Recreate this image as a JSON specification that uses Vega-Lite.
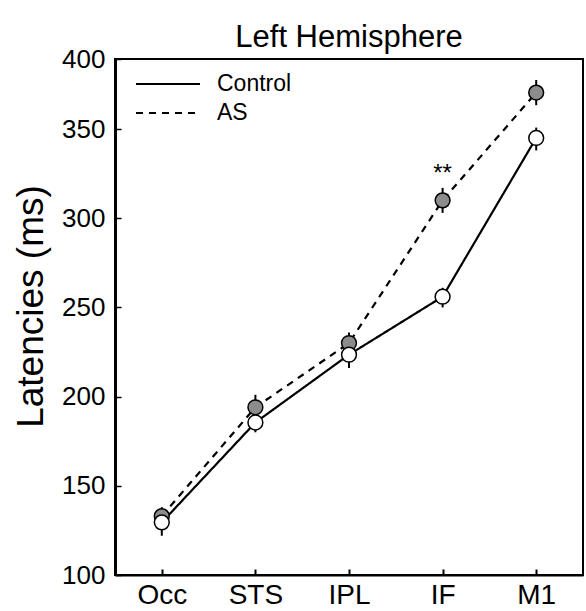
{
  "$schema": "https://vega.github.io/schema/vega-lite/v6.json",
  "width": 468,
  "height": 516,
  "autosize": {"type": "none"},
  "padding": {"left": 115, "top": 59, "right": 3, "bottom": 36},
  "background": "white",
  "config": {
    "view": {"stroke": "black", "strokeWidth": 2},
    "font": "Liberation Sans",
    "axis": {"labelColor": "black", "titleColor": "black", "domainColor": "black", "tickColor": "black", "grid": false, "labelFont": "Liberation Sans", "titleFont": "Liberation Sans", "titleFontWeight": "normal"}
  },
  "title": {"text": "Left Hemisphere", "fontSize": 31, "fontWeight": "normal", "font": "Liberation Sans", "color": "black", "anchor": "middle", "offset": -8},
  "data": {
    "values": [
      {"region": "Occ", "group": "AS", "lat": 133, "lo": 127, "hi": 138},
      {"region": "STS", "group": "AS", "lat": 194, "lo": 187, "hi": 201},
      {"region": "IPL", "group": "AS", "lat": 230, "lo": 224, "hi": 236},
      {"region": "IF", "group": "AS", "lat": 310, "lo": 303, "hi": 317},
      {"region": "M1", "group": "AS", "lat": 376, "lo": 367, "hi": 385},
      {"region": "Occ", "group": "Control", "lat": 129.5, "lo": 122, "hi": 136},
      {"region": "STS", "group": "Control", "lat": 185.5, "lo": 180, "hi": 191},
      {"region": "IPL", "group": "Control", "lat": 223.5, "lo": 216, "hi": 230},
      {"region": "IF", "group": "Control", "lat": 256, "lo": 250, "hi": 261},
      {"region": "M1", "group": "Control", "lat": 345, "lo": 338, "hi": 351}
    ]
  },
  "encoding": {
    "x": {
      "field": "region", "type": "ordinal",
      "scale": {"type": "point", "domain": ["Occ", "STS", "IPL", "IF", "M1"], "padding": 0.5},
      "axis": {"title": null, "labelAngle": 0, "labelFontSize": 28, "tickSize": -6, "tickWidth": 2, "labelPadding": 12, "domainWidth": 2}
    }
  },
  "layer": [
    {
      "mark": {"type": "line", "color": "black", "strokeWidth": 2.2},
      "encoding": {
        "y": {
          "field": "lat", "type": "quantitative",
          "scale": {"domain": [100, 350, 400], "range": [516, 70, 0], "zero": false, "nice": false},
          "axis": {"title": "Latencies (ms)", "values": [100, 150, 200, 250, 300, 350, 400], "labelFontSize": 26, "tickSize": -6, "tickWidth": 1.5, "labelPadding": 16, "domainWidth": 3, "titleFontSize": 37, "titleX": -84, "titleY": 247, "titleAlign": "center", "titleBaseline": "middle", "titleAngle": 270}
        },
        "strokeDash": {
          "field": "group", "type": "nominal",
          "scale": {"domain": ["Control", "AS"], "range": [[1, 0], [7, 6]]},
          "legend": {"title": null, "orient": "none", "legendX": 36, "legendY": 8, "padding": 0, "symbolType": "M-2,0H2", "symbolSize": 1024, "symbolStrokeWidth": 2, "symbolStrokeColor": "black", "symbolFillColor": "transparent", "labelFontSize": 23, "labelColor": "black", "labelOffset": 32, "rowPadding": -4}
        }
      }
    },
    {
      "mark": {"type": "rule", "color": "black", "strokeWidth": 2},
      "encoding": {
        "y": {"field": "lo", "type": "quantitative"},
        "y2": {"field": "hi"}
      }
    },
    {
      "mark": {"type": "point", "filled": true, "shape": "circle", "size": 220, "stroke": "black", "strokeWidth": 1.5, "opacity": 1},
      "encoding": {
        "y": {"field": "lat", "type": "quantitative"},
        "fill": {"field": "group", "type": "nominal", "scale": {"domain": ["Control", "AS"], "range": ["white", "#8c8c8c"]}, "legend": null}
      }
    },
    {
      "data": {"values": [{"region": "IF", "y": 325, "label": "**"}]},
      "mark": {"type": "text", "fontSize": 24, "color": "black", "baseline": "middle", "align": "center"},
      "encoding": {
        "y": {"field": "y", "type": "quantitative"},
        "text": {"field": "label"}
      }
    }
  ]
}
